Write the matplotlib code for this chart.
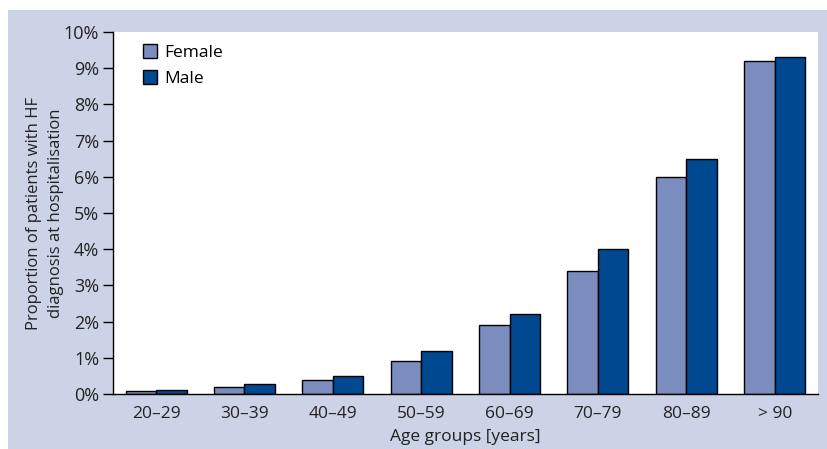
import matplotlib.pyplot as plt
import numpy as np
from matplotlib.patches import Rectangle

plt.rcParams['font.family'] = ['Open Sans', 'DejaVu Sans']

ageGroups = ["20–29", "30–39", "40–49", "50–59", "60–69", "70–79", "80–89", "> 90"]
female = [0.09, 0.19, 0.38, 0.9, 1.9, 3.4, 6.0, 9.2]
male = [0.12, 0.28, 0.49, 1.2, 2.2, 4.0, 6.5, 9.3]
yTicks = [0, 1, 2, 3, 4, 5, 6, 7, 8, 9, 10]

femaleColor = "#7b8cbe"
maleColor = "#00488f"
bgColor = "#cdd3e6"
textColor = "#222222"

fig = plt.figure(figsize=(8.27, 4.49), dpi=100)
fig.patch.set_facecolor("white")
# lavender panel behind the plot
fig.patches.append(Rectangle((8 / 827, 0), 1 - 8 / 827, 439 / 449,
                             transform=fig.transFigure, facecolor=bgColor,
                             edgecolor="none", zorder=-1))

ax = fig.add_axes([113 / 827, 55 / 449, 705 / 827, 362 / 449])
ax.set_facecolor("white")

x = np.arange(len(ageGroups))
barWidth = 0.345
ax.bar(x - barWidth / 2, female, width=barWidth, color=femaleColor,
       edgecolor="black", linewidth=1.0, label="Female")
ax.bar(x + barWidth / 2, male, width=barWidth, color=maleColor,
       edgecolor="black", linewidth=1.0, label="Male")

ax.set_xlim(-0.487, 7.49)
ax.set_ylim(0, 10)
ax.set_yticks(yTicks)
ax.set_yticklabels([f"{t}%" for t in yTicks])
ax.set_xticks(x)
ax.set_xticklabels(ageGroups)

for side in ["top", "right"]:
    ax.spines[side].set_visible(False)
ax.spines["left"].set_linewidth(1.0)
ax.spines["bottom"].set_linewidth(1.0)
ax.tick_params(axis="y", length=7, width=1.0, labelsize=13, pad=3, colors="black")
ax.tick_params(axis="x", length=0, labelsize=12.5, pad=9)
for lbl in ax.get_yticklabels() + ax.get_xticklabels():
    lbl.set_color(textColor)

ax.set_xlabel("Age groups [years]", fontsize=12.5, color=textColor, labelpad=5)
ax.set_ylabel("Proportion of patients with HF\ndiagnosis at hospitalisation",
              fontsize=12, color=textColor, linespacing=1.45)
ax.yaxis.set_label_coords(-0.07, 0.5)

ax.legend(loc="upper left", bbox_to_anchor=(0.02, 1.01), frameon=False,
          handlelength=0.8, handleheight=0.9, handletextpad=0.45,
          labelspacing=0.5, fontsize=12.5)

fig.savefig("out.png", dpi=100, facecolor=fig.get_facecolor())
